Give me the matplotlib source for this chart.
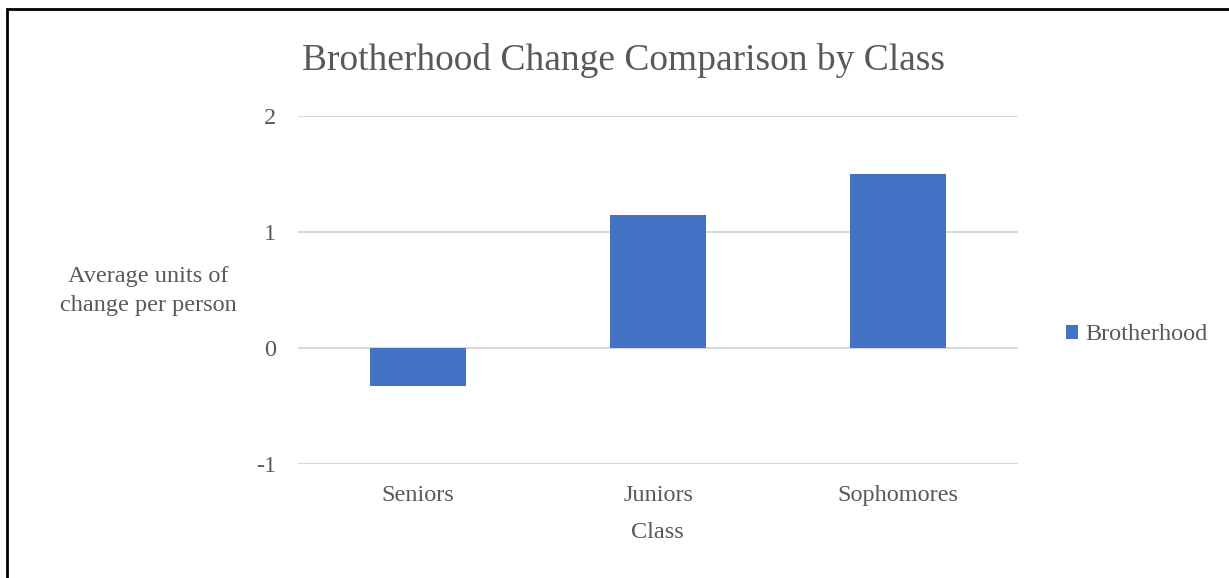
import matplotlib.pyplot as plt
from matplotlib.patches import Rectangle

# Average change in brotherhood score, by class
classes = ["Seniors", "Juniors", "Sophomores"]
brotherhood = [-0.33, 1.15, 1.5]
y_ticks = [-1, 0, 1, 2]

text_color = "#595959"
bar_color = "#4472C4"
grid_color = "#D9D9D9"

plt.rcParams["font.family"] = ["Liberation Serif", "DejaVu Serif"]
plt.rcParams["axes.unicode_minus"] = False

fig = plt.figure(figsize=(12.29, 5.78), dpi=100)
W, H = 1229, 578
ax = fig.add_axes([298 / W, 1 - 464 / H, 720 / W, 348 / H])

ax.bar(classes, brotherhood, width=0.4, color=bar_color, label="Brotherhood", zorder=2)

ax.set_xlim(-0.5, len(classes) - 0.5)
ax.set_ylim(-1, 2)
ax.set_yticks(y_ticks)
ax.yaxis.grid(True, color=grid_color, linewidth=1.5, zorder=0)
for s in ax.spines.values():
    s.set_visible(False)
ax.tick_params(axis="both", length=0, labelsize=17.5, labelcolor=text_color)
ax.tick_params(axis="y", pad=16)
ax.tick_params(axis="x", pad=15)

fig.text(624 / W, 1 - 60 / H, "Brotherhood Change Comparison by Class",
         ha="center", va="center", fontsize=27, color=text_color)
fig.text(148 / W, 1 - 291 / H, "Average units of\nchange per person",
         ha="center", va="center", fontsize=17.5, color=text_color, linespacing=1.45)
fig.text(657 / W, 1 - 533 / H, "Class", ha="center", va="center",
         fontsize=17.5, color=text_color)

leg = fig.legend(loc="center left", bbox_to_anchor=(1066 / W, 1 - 335 / H),
                 frameon=False, fontsize=17.5, handlelength=0.5, handleheight=0.5,
                 handletextpad=0.3, borderpad=0, borderaxespad=0)
for t in leg.get_texts():
    t.set_color(text_color)

# outer border
fig.patches.append(Rectangle((7 / W, -0.05), 1.1, 1 - 9 / H + 0.05, transform=fig.transFigure,
                             fill=False, edgecolor="black", linewidth=2))

fig.savefig("out.png", dpi=100)
